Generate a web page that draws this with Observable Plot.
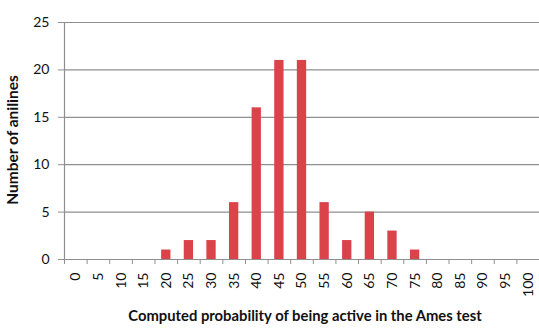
<!DOCTYPE html>
<html>
<head>
<meta charset="utf-8">
<script src="https://cdn.jsdelivr.net/npm/d3@7"></script>
<script src="https://cdn.jsdelivr.net/npm/@observablehq/plot@0.6"></script>
<style>
  html, body { margin: 0; padding: 0; background: #fff; }
  #chart svg { display: block; }
</style>
</head>
<body>
<div id="chart"></div>
<script>
// Histogram bins: computed probability (%) of being active in the Ames test
const bins = [0, 5, 10, 15, 20, 25, 30, 35, 40, 45, 50, 55, 60, 65, 70, 75, 80, 85, 90, 95, 100];
// Number of anilines in each bin
const counts = [0, 0, 0, 0, 1, 2, 2, 6, 16, 21, 21, 6, 2, 5, 3, 1, 0, 0, 0, 0, 0];
// Y axis tick values
const yTicks = [0, 5, 10, 15, 20, 25];

const binStep = 5;
const barHalf = 1.03; // half bar width, in x units
const data = bins.map((b, i) => ({bin: b, count: counts[i]}));
const xDomain = [bins[0] - binStep / 2, bins[bins.length - 1] + binStep / 2];
const boundaries = bins.map(b => b - binStep / 2).concat([xDomain[1]]);

const font = "Lato, 'Open Sans', sans-serif";
const grid = "#8f8f8f";

const chart = Plot.plot({
  width: 539,
  height: 328,
  marginLeft: 64,
  marginRight: 0,
  marginTop: 22,
  marginBottom: 69,
  style: {fontFamily: font, fontSize: "14px", color: "#111", background: "#fff"},
  x: {type: "linear", domain: xDomain},
  y: {domain: [0, 25]},
  marks: [
    Plot.ruleY(yTicks, {stroke: grid, strokeWidth: 1.2}),
    Plot.ruleX([xDomain[0]], {stroke: grid, strokeWidth: 1.2}),
    Plot.rectY(data, {
      x1: d => d.bin - barHalf,
      x2: d => d.bin + barHalf,
      y: "count",
      fill: "#db434b"
    }),
    Plot.axisY({ticks: yTicks, tickSize: 6, tickPadding: 9, stroke: grid, label: null, fontSize: 14}),
    Plot.axisX({ticks: boundaries, tickSize: 5, tickFormat: () => "", stroke: grid, label: null}),
    Plot.axisX({ticks: bins, tickSize: 0, tickPadding: 13, tickRotate: -90, label: null, fontSize: 14}),
    Plot.text(["Computed probability of being active in the Ames test"], {
      frameAnchor: "bottom", dy: 61, dx: 3, fontWeight: "bold", fontSize: 14.8, fill: "#111"
    }),
    Plot.text(["Number of anilines"], {
      frameAnchor: "left", textAnchor: "middle", dx: -51, dy: -1, rotate: -90,
      fontWeight: "bold", fontSize: 15.5, letterSpacing: "0.7px", fill: "#111"
    })
  ]
});

document.getElementById("chart").appendChild(chart);
</script>
</body>
</html>
